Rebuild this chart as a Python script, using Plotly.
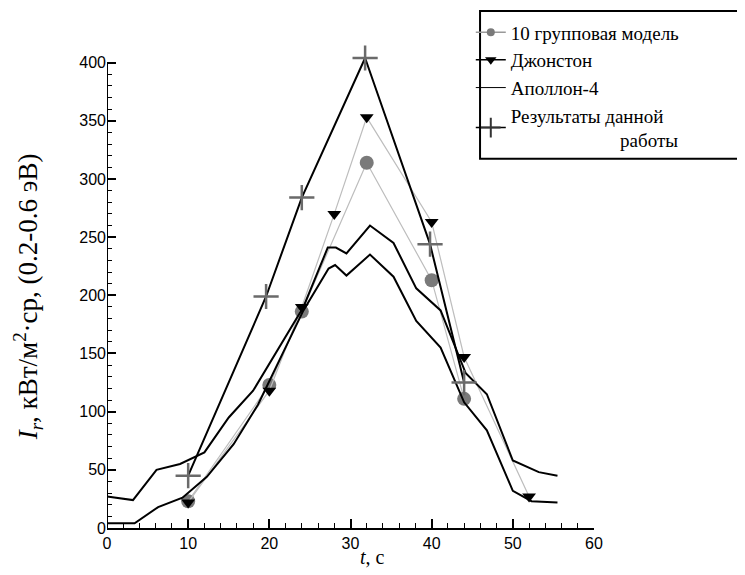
import plotly.graph_objects as go

# ---- data ----
t_group = [10, 20, 24, 32, 40, 44]
v_group = [23, 123, 186, 314, 213, 111]

t_johnston = [10, 20, 24, 28, 32, 40, 44, 52]
v_johnston = [22, 118, 190, 270, 353, 263, 147, 27]

t_apollo_up = [0, 3.2, 6.1, 9, 12, 15, 18, 24.2, 27.2, 28.2, 29.5, 32.4, 35.3, 38.1, 41.1, 44.2, 46.8, 50, 53.2, 55.5]
v_apollo_up = [27, 24, 50, 55, 65, 95, 118, 190, 241, 241, 236, 260, 245, 206, 187, 133, 115, 58, 48, 45]

t_apollo_lo = [0, 3.4, 6.3, 9.3, 12.3, 15.6, 18.6, 24.2, 27.3, 28.1, 29.5, 32.4, 35.3, 38.1, 41.1, 44, 46.8, 50, 52.3, 55.5]
v_apollo_lo = [4, 4, 18, 26, 44, 72, 106, 187, 223, 226, 217, 235, 216, 178, 155, 108, 84, 32, 23, 22]

t_result = [10, 19.6, 24, 31.8, 39.8, 44]
v_result = [45, 199, 284, 404, 244, 125]

x_ticks = [0, 10, 20, 30, 40, 50, 60]
y_ticks = [0, 50, 100, 150, 200, 250, 300, 350, 400]

names = ["10 групповая модель", "Джонстон", "Аполлон-4",
         "Результаты данной<br>" + "\u00a0" * 23 + "работы"]

GRAY_LINE = "#bdbdbd"
SERIF = "Times New Roman"
SANS = "Arial"

fig = go.Figure()

# plotted traces
fig.add_trace(go.Scatter(x=t_group, y=v_group, mode="lines+markers",
                         line=dict(color=GRAY_LINE, width=1.2),
                         marker=dict(symbol="circle", size=14, color="#7a7a7a"),
                         showlegend=False))
fig.add_trace(go.Scatter(x=t_johnston, y=v_johnston, mode="lines+markers",
                         line=dict(color=GRAY_LINE, width=1.2),
                         marker=dict(symbol="triangle-down", size=12, color="black"),
                         showlegend=False))
for tt, vv in ((t_apollo_up, v_apollo_up), (t_apollo_lo, v_apollo_lo)):
    fig.add_trace(go.Scatter(x=tt, y=vv, mode="lines",
                             line=dict(color="black", width=2),
                             showlegend=False))
fig.add_trace(go.Scatter(x=t_result, y=v_result, mode="lines+markers",
                         line=dict(color="black", width=2),
                         marker=dict(symbol="cross-thin", size=18,
                                     line=dict(color="#6a6a6a", width=2.5)),
                         showlegend=False, cliponaxis=False))

# legend entries
fig.add_trace(go.Scatter(x=[None], y=[None], mode="lines+markers", name=names[0],
                         line=dict(color="#999999", width=1.5),
                         marker=dict(symbol="circle", size=8, color="#7a7a7a")))
fig.add_trace(go.Scatter(x=[None], y=[None], mode="lines+markers", name=names[1],
                         line=dict(color="black", width=1.5),
                         marker=dict(symbol="triangle-down", size=10, color="black")))
fig.add_trace(go.Scatter(x=[None], y=[None], mode="lines", name=names[2],
                         line=dict(color="black", width=1)))
fig.add_trace(go.Scatter(x=[None], y=[None], mode="lines+markers", name=names[3],
                         line=dict(color="black", width=1.5),
                         marker=dict(symbol="cross-thin", size=14,
                                     line=dict(color="#333333", width=2))))

fig.update_layout(
    width=745, height=575,
    margin=dict(l=99, r=159, t=43, b=55, autoexpand=False),
    paper_bgcolor="white", plot_bgcolor="white",
    showlegend=True,
    legend=dict(x=0.747, y=1.079, xanchor="left", yanchor="top",
                bgcolor="rgba(0,0,0,0)", borderwidth=0,
                font=dict(family=SERIF, size=19, color="black"),
                tracegroupgap=0, itemwidth=30),
    shapes=[
        dict(type="rect", xref="paper", yref="paper",
             x0=0.766, x1=1.324, y0=0.774, y1=1.084,
             line=dict(color="black", width=2), fillcolor="rgba(0,0,0,0)"),
        dict(type="line", xref="x", yref="y", x0=0, x1=0, y0=0, y1=400,
             line=dict(color="black", width=2)),
    ],
    annotations=[
        dict(text="<i>I</i><sub><i>r</i></sub>, кВт/м<sup>2</sup>·ср, (0.2-0.6 эВ)",
             xref="paper", yref="paper", x=-0.162, y=0.484,
             textangle=-90, showarrow=False, xanchor="center", yanchor="middle",
             font=dict(family=SERIF, size=27, color="black")),
        dict(text="<i>t</i>, c", xref="paper", yref="paper", x=0.545, y=-0.06,
             showarrow=False, xanchor="center", yanchor="middle",
             font=dict(family=SERIF, size=20, color="black")),
    ],
)

fig.update_xaxes(range=[0, 60], tickvals=x_ticks, ticks="inside", ticklen=9,
                 tickwidth=2, tickcolor="black", showline=True, linewidth=2,
                 linecolor="black", showgrid=False, zeroline=False,
                 tickfont=dict(family=SANS, size=16, color="black"),
                 minor=dict(ticks="inside", ticklen=5, tickwidth=1.2,
                            tickcolor="black", dtick=2, showgrid=False))
fig.update_yaxes(range=[0, 410], tickvals=y_ticks, ticks="inside", ticklen=9,
                 tickwidth=2, tickcolor="black", showline=False,
                 showgrid=False, zeroline=False,
                 tickfont=dict(family=SANS, size=16, color="black"),
                 minor=dict(ticks="inside", ticklen=5, tickwidth=1.2,
                            tickcolor="black", tickvals=list(range(0, 401, 10)),
                            showgrid=False))

fig.write_html("out.html")
